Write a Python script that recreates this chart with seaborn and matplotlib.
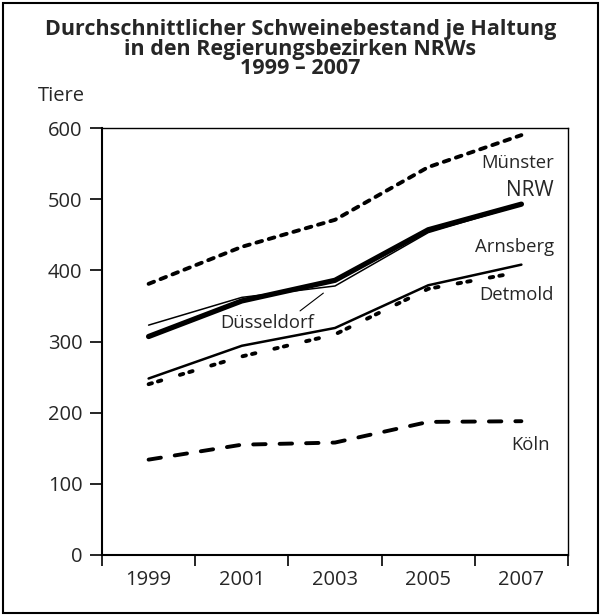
"""
Durchschnittlicher Schweinebestand je Haltung in den Regierungsbezirken NRWs
"""
import numpy as np
import pandas as pd
import matplotlib
matplotlib.use("Agg")
import matplotlib.pyplot as plt
from matplotlib.patches import Rectangle
import seaborn as sns

# Daten
jahre = [1999, 2001, 2003, 2005, 2007]
muenster = [381, 433, 471, 545, 590]
nrw = [307, 357, 386, 457, 493]
duesseldorf = [323, 362, 378, 453, 492]
arnsberg = [248, 294, 319, 379, 408]
detmold = [240, 279, 310, 374, 398]
koeln = [134, 155, 158, 187, 188]
y_ticks = [0, 100, 200, 300, 400, 500, 600]

sns.set_theme(style="white")
plt.rcParams["font.family"] = ["Open Sans", "DejaVu Sans"]

fig = plt.figure(figsize=(6.01, 6.16), dpi=100)
ax = fig.add_axes([102 / 601, 61 / 616, 466 / 601, 427 / 616])

# Linienstile: (Werte, Linienbreite, Strichmuster)
serien = {
    "Münster": (muenster, 2.8, (0, (1.5, 1.8))),
    "Köln": (koeln, 2.8, (0, (3.2, 3.6))),
    "Detmold": (detmold, 2.8, (0, (0.9, 1.6, 0.9, 5.0))),
    "Arnsberg": (arnsberg, 1.8, "-"),
    "NRW": (nrw, 3.8, "-"),
    "Düsseldorf": (duesseldorf, 1.1, "-"),
}
for name, (werte, lw, ls) in serien.items():
    sns.lineplot(x=jahre, y=werte, ax=ax, color="black", lw=lw,
                 linestyle=ls, dash_capstyle="round",
                 solid_capstyle="round", solid_joinstyle="round")

ax.set_xlim(1998, 2008)
ax.set_ylim(0, 600)
ax.set_yticks(y_ticks)
ax.set_xticks(jahre)
ax.set_xticks(np.arange(1998, 2009, 2), minor=True)
ax.tick_params(axis="x", which="major", length=0, pad=11, labelsize=14.5)
ax.tick_params(axis="x", which="minor", length=8, width=1.2, color="black",
               direction="out", bottom=True)
ax.tick_params(axis="y", length=9, width=1.2, color="black", direction="out",
               left=True, pad=5, labelsize=14.5)
ax.set_xlabel("")
ax.set_ylabel("")
for s in ax.spines.values():
    s.set_color("black")
    s.set_linewidth(1.0)
ax.spines["left"].set_linewidth(1.5)
ax.spines["bottom"].set_linewidth(1.5)

# Beschriftungen der Linien
ax.text(2007.7, 551, "Münster", ha="right", va="center", fontsize=13.3)
ax.text(2007.7, 512, "NRW", ha="right", va="center", fontsize=15)
ax.text(2007.7, 433, "Arnsberg", ha="right", va="center", fontsize=13.3)
ax.text(2007.7, 365, "Detmold", ha="right", va="center", fontsize=13.3)
ax.text(2007.2, 154, "Köln", ha="center", va="center", fontsize=13.3)
ax.text(2001.55, 326, "Düsseldorf", ha="center", va="center", fontsize=13.3)
ax.plot([2002.25, 2002.75], [343, 368], color="black", lw=0.8)

# Titel
titel = ["Durchschnittlicher Schweinebestand je Haltung",
         "in den Regierungsbezirken NRWs",
         "1999 – 2007"]
for zeile, y_px in zip(titel, [30, 49, 69]):
    fig.text(0.5, 1 - y_px / 616, zeile, ha="center", va="center",
             fontsize=15.5, fontweight="bold")
fig.text(38 / 601, 1 - 96 / 616, "Tiere", ha="left", va="center", fontsize=14.5)

# Rahmen um die gesamte Grafik
fig.patches.append(Rectangle((3 / 601, 3 / 616), 595 / 601, 610 / 616,
                             transform=fig.transFigure, fill=False,
                             edgecolor="black", lw=1.5))

fig.savefig("out.png", dpi=100)
